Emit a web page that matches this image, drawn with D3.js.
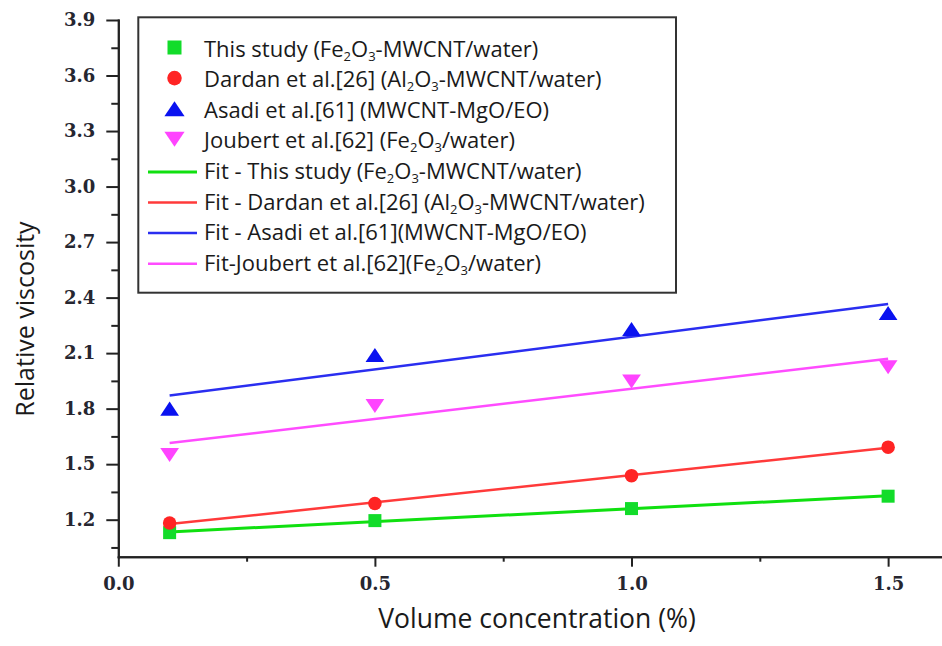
<!DOCTYPE html>
<html lang="en">
<head>
<meta charset="UTF-8">
<script src="https://d3js.org/d3.v7.min.js"></script>
<style>
body { margin: 0; background: #fff; }
svg { display: block; }
.tick text { font-family: "DejaVu Serif", serif; font-weight: bold; font-size: 18px; fill: #262630; }
.axis path, .axis line { stroke: #222; stroke-width: 2; }
.lbl { font-family: "Open Sans", Lato, sans-serif; fill: #1a1a1a; }
</style>
</head>
<body>
<div class="canva"></div>
<script>
// volume concentrations (%)
const conc = [0.1, 0.5, 1.0, 1.5];

// relative viscosity
const thisStudy = [1.13, 1.195, 1.26, 1.327];
const dardan = [1.182, 1.287, 1.438, 1.592];
const asadi = [1.80, 2.09, 2.23, 2.317];
const joubert = [1.55, 1.814, 1.947, 2.024];

const seriesNames = [
  "This study (Fe_2O_3-MWCNT/water)",
  "Dardan et al.[26] (Al_2O_3-MWCNT/water)",
  "Asadi et al.[61] (MWCNT-MgO/EO)",
  "Joubert et al.[62] (Fe_2O_3/water)"
];
const fitNames = [
  "Fit - This study (Fe_2O_3-MWCNT/water)",
  "Fit - Dardan et al.[26] (Al_2O_3-MWCNT/water)",
  "Fit - Asadi et al.[61](MWCNT-MgO/EO)",
  "Fit-Joubert et al.[62](Fe_2O_3/water)"
];
const markerColors = ["#12dc2a", "#ff2424", "#0a12f0", "#ff44ff"];
const lineColors = ["#10e010", "#ff3a3a", "#2a2ef0", "#ff4cff"];
const shapes = ["square", "circle", "up", "down"];

const xTicks = [0, 0.5, 1.0, 1.5];
const xMinor = [0.25, 0.75, 1.25];
const yTicks = [1.2, 1.5, 1.8, 2.1, 2.4, 2.7, 3.0, 3.3, 3.6, 3.9];
const yMinor = [1.05, 1.35, 1.65, 1.95, 2.25, 2.55, 2.85, 3.15, 3.45, 3.75];

const width = 942, height = 646;
const svg = d3.select(".canva").append("svg")
  .attr("width", width)
  .attr("height", height);

const x = d3.scaleLinear().domain([0, 1.605]).range([118.3, 942]);
const y = d3.scaleLinear().domain([1.0, 3.9]).range([556.7, 20]);

// axes: minor ticks first, then major with labels
svg.append("g").attr("class", "axis")
  .attr("transform", `translate(0,${y(1.0)})`)
  .call(d3.axisBottom(x).tickValues(xMinor).tickSize(5).tickSizeOuter(0).tickFormat(""));
svg.append("g").attr("class", "axis")
  .attr("transform", `translate(0,${y(1.0)})`)
  .call(d3.axisBottom(x).tickValues(xTicks).tickSize(10).tickPadding(11).tickSizeOuter(0).tickFormat(d3.format(".1f")));

svg.append("g").attr("class", "axis")
  .attr("transform", `translate(${x(0)},0)`)
  .call(d3.axisLeft(y).tickValues(yMinor).tickSize(7).tickSizeOuter(0).tickFormat(""));
svg.append("g").attr("class", "axis")
  .attr("transform", `translate(${x(0)},0)`)
  .call(d3.axisLeft(y).tickValues(yTicks).tickSize(12).tickPadding(11).tickSizeOuter(0).tickFormat(d3.format(".1f")));

svg.selectAll(".axis .domain").attr("stroke-linecap", "square");

// axis titles
svg.append("text").attr("class", "lbl")
  .attr("x", 537).attr("y", 628)
  .attr("text-anchor", "middle")
  .style("font-size", "26.5px")
  .text("Volume concentration (%)");
svg.append("text").attr("class", "lbl")
  .attr("transform", `translate(34,319) rotate(-90)`)
  .attr("text-anchor", "middle")
  .style("font-size", "25px")
  .text("Relative viscosity");

// marker drawing
function marker(sel, shape, color, s) {
  if (shape === "square") {
    sel.append("rect").attr("x", -s * 0.5).attr("y", -s * 0.5)
      .attr("width", s).attr("height", s).attr("fill", color);
  } else if (shape === "circle") {
    sel.append("circle").attr("r", s * 0.52).attr("fill", color);
  } else {
    const w = s * 0.72, h = s * 0.54;
    const d = shape === "up"
      ? `M0,${-h}L${w},${h}L${-w},${h}Z`
      : `M0,${h}L${w},${-h}L${-w},${-h}Z`;
    sel.append("path").attr("d", d).attr("fill", color);
  }
}

// least squares fit
function linFit(xs, ys) {
  const mx = d3.mean(xs), my = d3.mean(ys);
  const b = d3.sum(xs, (v, i) => (v - mx) * (ys[i] - my)) / d3.sum(xs, v => (v - mx) ** 2);
  return v => my + b * (v - mx);
}

const allSeries = [thisStudy, dardan, asadi, joubert];
const line = d3.line().x(d => x(d[0])).y(d => y(d[1]));

allSeries.forEach((vals, k) => {
  const f = linFit(conc, vals);
  const ends = d3.extent(conc);
  svg.append("path")
    .datum(ends.map(v => [v, f(v)]))
    .attr("fill", "none")
    .attr("stroke", lineColors[k])
    .attr("stroke-width", k === 0 ? 3 : 2.5)
    .attr("d", line);
});

allSeries.forEach((vals, k) => {
  svg.selectAll(null)
    .data(vals)
    .enter()
    .append("g")
    .attr("transform", (d, i) => `translate(${x(conc[i])},${y(d)})`)
    .each(function() { marker(d3.select(this), shapes[k], markerColors[k], 13); });
});

// text with subscripts written as _n
function richText(t, str) {
  let shift = 0;
  str.split(/_(\d)/).forEach((part, i) => {
    if (!part) return;
    if (i % 2 === 1) {
      t.append("tspan").attr("dy", 4 - shift).style("font-size", "13px").text(part);
      shift = 4;
    } else {
      t.append("tspan").attr("dy", -shift).text(part);
      shift = 0;
    }
  });
}

// legend
const legend = svg.append("g");
legend.append("rect")
  .attr("x", 138.3).attr("y", 17.3)
  .attr("width", 676 - 138.3).attr("height", 292.7 - 17.3)
  .attr("fill", "#fff")
  .attr("stroke", "#333")
  .attr("stroke-width", 2);

const rows = seriesNames.concat(fitNames);
const rowY = i => 47.5 + i * 30.6;
rows.forEach((name, i) => {
  const g = legend.append("g").attr("transform", `translate(0,${rowY(i)})`);
  if (i < 4) {
    const m = g.append("g").attr("transform", "translate(174.5,0)");
    marker(m, shapes[i], markerColors[i], 14);
  } else {
    g.append("line")
      .attr("x1", 148).attr("x2", 197)
      .attr("y1", 2).attr("y2", 2)
      .attr("stroke", lineColors[i - 4])
      .attr("stroke-width", i === 4 ? 3 : 2.5);
  }
  const t = g.append("text").attr("class", "lbl")
    .attr("x", 204).attr("y", 9)
    .style("font-size", "22px");
  richText(t, name);
});
</script>
</body>
</html>
